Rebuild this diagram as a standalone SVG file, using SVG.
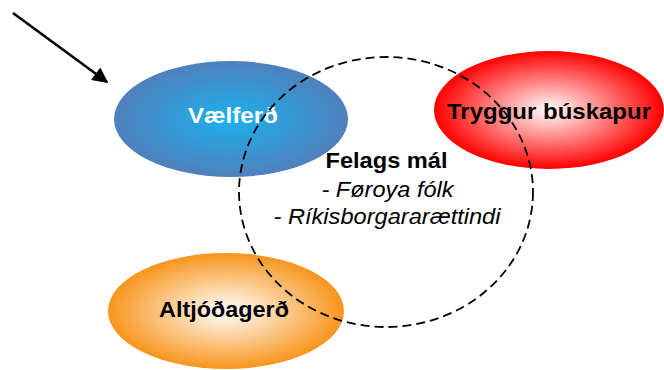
<svg xmlns="http://www.w3.org/2000/svg" width="664" height="370" viewBox="0 0 664 370">
<defs>
<radialGradient id="gBlue" cx="50%" cy="50%" r="50%">
<stop offset="0" stop-color="#1bb1ee"/>
<stop offset="1" stop-color="#4f80bd"/>
</radialGradient>
<radialGradient id="gRed" cx="50%" cy="50%" r="50%">
<stop offset="0" stop-color="#ffffff"/>
<stop offset="1" stop-color="#ff0000"/>
</radialGradient>
<radialGradient id="gOrange" cx="50%" cy="50%" r="50%">
<stop offset="0" stop-color="#ffffff"/>
<stop offset="1" stop-color="#f8951d"/>
</radialGradient>
<marker id="arrow" viewBox="0 0 10 10" refX="9" refY="5" markerWidth="6.5" markerHeight="6" markerUnits="strokeWidth" orient="auto">
<path d="M0,0 L10,5 L0,10 z" fill="#000"/>
</marker>
</defs>
<style>
text{font-family:"Liberation Sans",Arial,sans-serif;font-size:22px;text-anchor:middle}
.b{font-weight:bold}
.i{font-style:italic}
.dash{fill:none;stroke:#000;stroke-width:1.8;stroke-dasharray:9 5}
</style>
<rect width="664" height="370" fill="#fff"/>
<g id="node-vaelferd">
<ellipse cx="231" cy="119" rx="117" ry="58" fill="url(#gBlue)"/>
<text class="b" x="233" y="123" fill="#fff" textLength="90" lengthAdjust="spacingAndGlyphs">Vælferð</text>
</g>
<g id="node-tryggur">
<ellipse cx="549" cy="110" rx="115" ry="59" fill="url(#gRed)"/>
<text class="b" x="549" y="118.5" fill="#000" textLength="204" lengthAdjust="spacingAndGlyphs">Tryggur búskapur</text>
</g>
<g id="node-altjodagerd">
<ellipse cx="226" cy="311" rx="118" ry="58" fill="url(#gOrange)"/>
<text class="b" x="224" y="317" fill="#000" textLength="130" lengthAdjust="spacingAndGlyphs">Altjóðagerð</text>
</g>
<g id="node-felags">
<ellipse class="dash" cx="386" cy="192" rx="147" ry="135"/>
<text class="b" x="386.5" y="167.5" textLength="122" lengthAdjust="spacingAndGlyphs">Felags mál</text>
<text class="i" x="387.5" y="197" textLength="132" lengthAdjust="spacingAndGlyphs">- Føroya fólk</text>
<text class="i" x="387" y="224" textLength="227" lengthAdjust="spacingAndGlyphs">- Ríkisborgararættindi</text>
</g>
<g id="connectors">
<line x1="13" y1="13" x2="107" y2="82" stroke="#000" stroke-width="2.6" marker-end="url(#arrow)"/>
</g>
</svg>
